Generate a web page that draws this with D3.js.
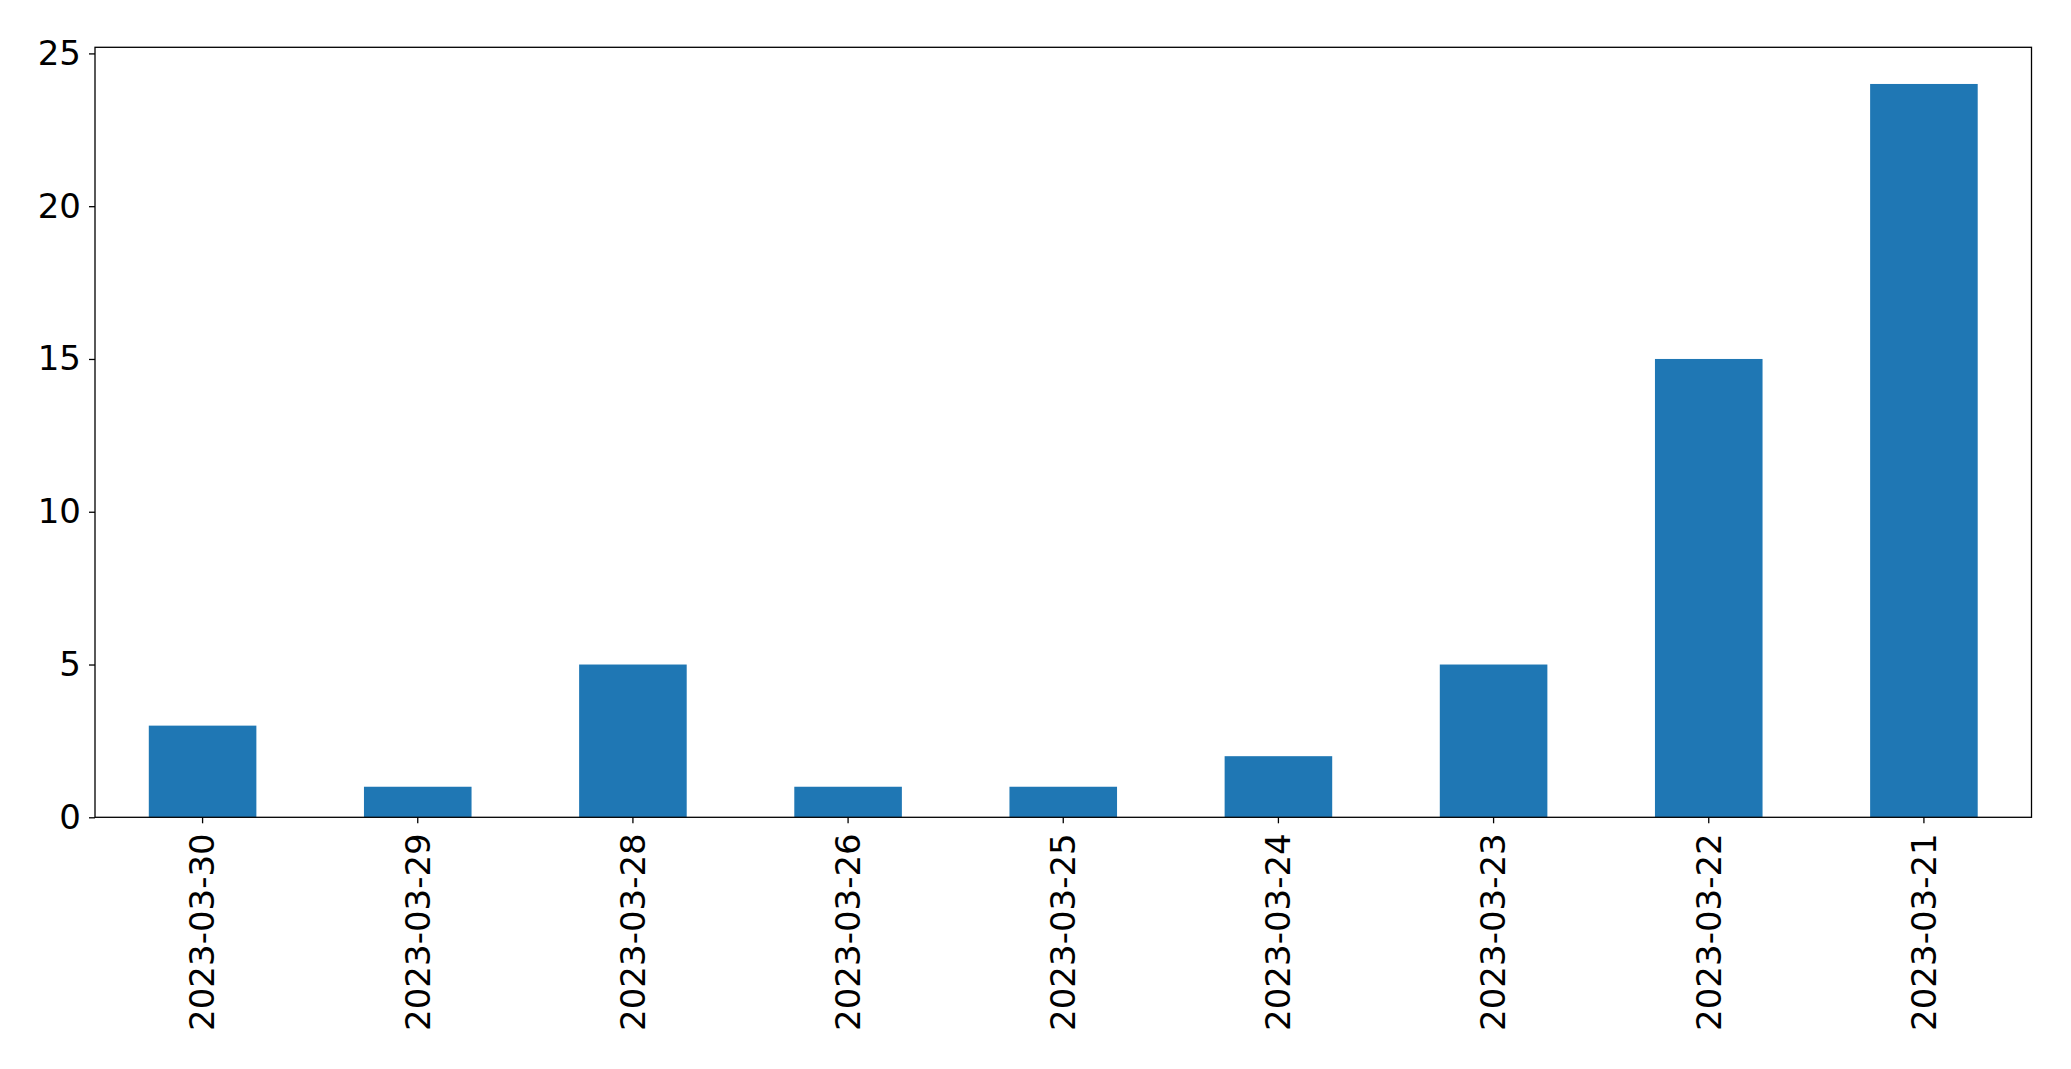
<!DOCTYPE html>
<html><head><meta charset="utf-8">
<script src="https://cdn.jsdelivr.net/npm/d3@7"></script>
<style>body{margin:0;background:#fff}svg{display:block}</style>
</head><body>
<script>
const categories = ["2023-03-30","2023-03-29","2023-03-28","2023-03-26","2023-03-25","2023-03-24","2023-03-23","2023-03-22","2023-03-21"];
const values = [3,1,5,1,1,2,5,15,24];
const yTicks = [0,5,10,15,20,25];

const W = 2071, H = 1069;
const m = {left:95, right:2031.5, top:47.3, bottom:817.3};
const svg = d3.select("body").append("svg").attr("width",W).attr("height",H);

const x = d3.scaleBand().domain(categories).range([m.left,m.right]).paddingInner(0.5).paddingOuter(0.25);
const y = d3.scaleLinear().domain([0,25.2]).range([m.bottom,m.top]);

svg.append("g").selectAll("rect").data(values).join("rect")
  .attr("x",(d,i)=>x(categories[i]))
  .attr("width",x.bandwidth())
  .attr("y",d=>y(d))
  .attr("height",d=>y(0)-y(d))
  .attr("fill","#1f77b4");

const font = "DejaVu Sans";
const ya = svg.append("g").attr("transform",`translate(${m.left},0)`)
  .call(d3.axisLeft(y).tickValues(yTicks).tickSize(6).tickPadding(8).tickFormat(d3.format("d")));
ya.select(".domain").remove();
ya.selectAll("text").attr("font-family",font).attr("font-size",34).attr("fill","#000");
ya.selectAll("line").attr("stroke","#000").attr("stroke-width",1.3);

const xa = svg.append("g").attr("transform",`translate(0,${m.bottom})`)
  .call(d3.axisBottom(x).tickSize(6).tickPadding(10));
xa.select(".domain").remove();
xa.selectAll("line").attr("stroke","#000").attr("stroke-width",1.3);
xa.selectAll("text").attr("font-family",font).attr("font-size",34).attr("fill","#000")
  .attr("transform","rotate(-90)").attr("text-anchor","end")
  .attr("x",-16).attr("y",0).attr("dy","0.35em");

svg.append("rect").attr("x",m.left).attr("y",m.top)
  .attr("width",m.right-m.left).attr("height",m.bottom-m.top)
  .attr("fill","none").attr("stroke","#000").attr("stroke-width",1.3);
</script>
</body></html>
